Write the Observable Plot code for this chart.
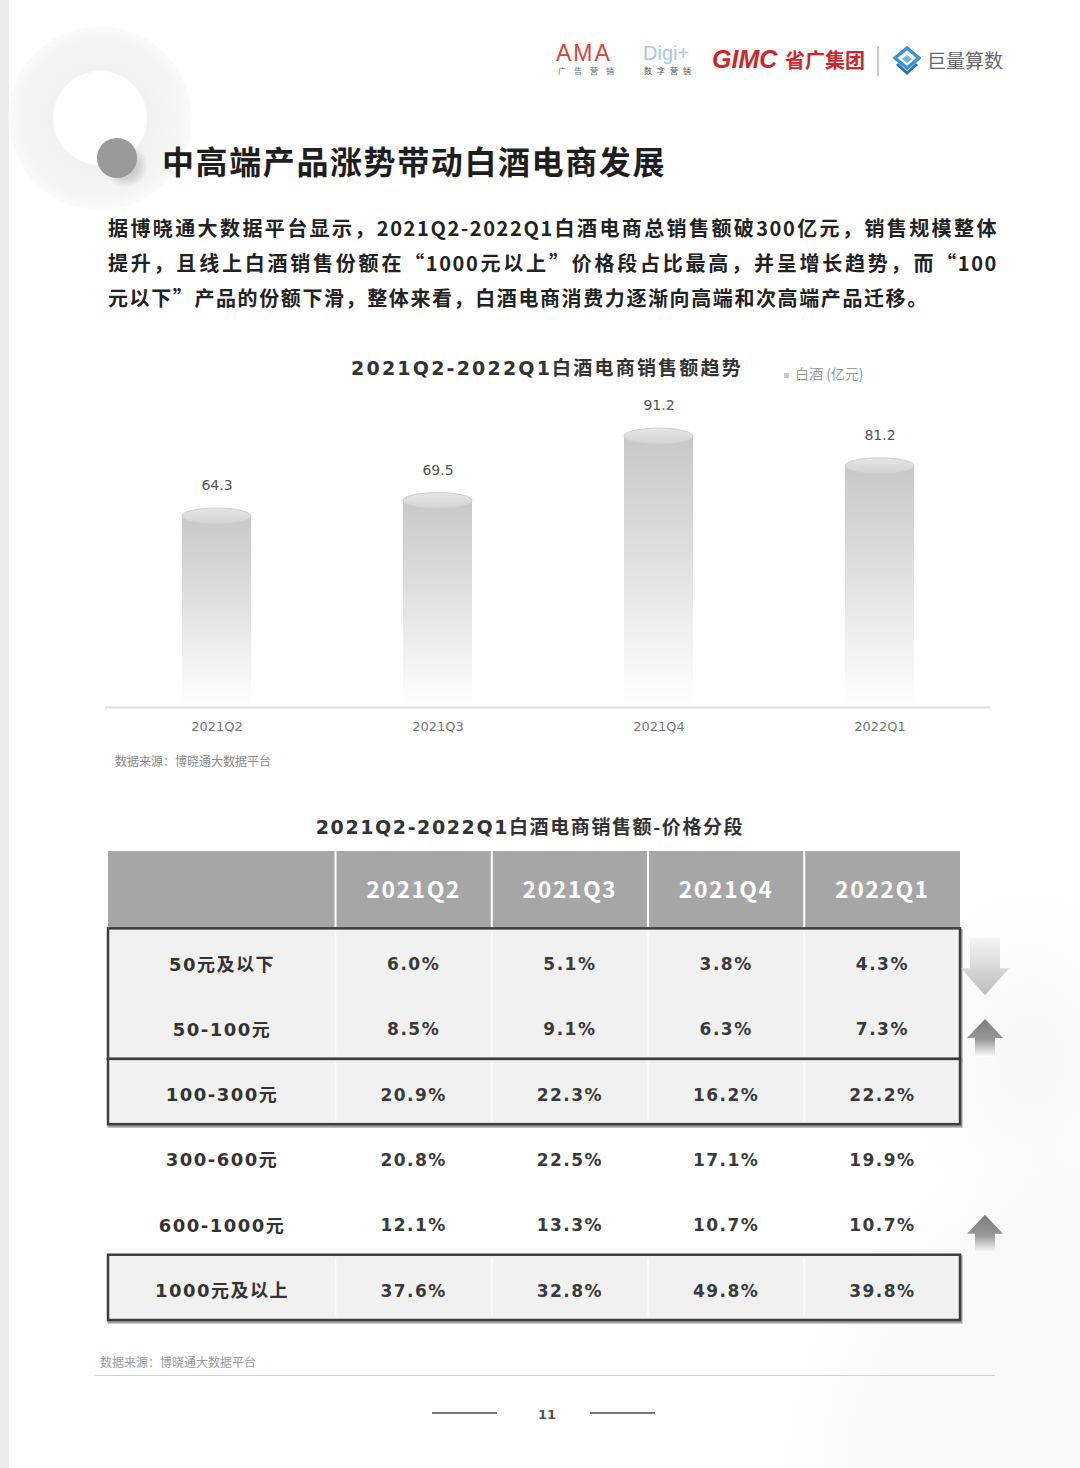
<!DOCTYPE html>
<html>
<head>
<meta charset="utf-8">
<script src="https://cdn.jsdelivr.net/npm/d3@7"></script>
<script src="https://cdn.jsdelivr.net/npm/@observablehq/plot@0.6"></script>
<style>
html, body { margin: 0; padding: 0; background: #fff; }
#page { position: relative; width: 1080px; height: 1468px; overflow: hidden; background: #fff;
  font-family: "Noto Sans CJK SC", "Noto Sans", sans-serif; }
.abs { position: absolute; }
.para { position: absolute; left: 108px; width: 890px; font-size: 20px; font-weight: 700; color: #222;
  letter-spacing: 1.6px; line-height: 35px; white-space: nowrap; }
.para.j { text-align: justify; text-align-last: justify; white-space: normal; }
.num { font-family: "DejaVu Sans", "Noto Sans CJK SC", sans-serif; }
</style>
</head>
<body>
<div id="page">
  <!-- decorative background -->
  <div class="abs" style="left:0;top:0;width:9px;height:1468px;background:#ececec;"></div>
  <div class="abs" style="left:8px;top:26px;width:184px;height:184px;border-radius:50%;background:radial-gradient(circle at 50% 50%, #fff 0 46px, #f1f1f1 48px, #f5f5f5 80px, #fafafa 91px, rgba(255,255,255,0) 93px);"></div>
  <div class="abs" style="left:780px;top:1120px;width:720px;height:720px;border-radius:50%;background:radial-gradient(circle at 50% 50%, #f9f9f9 0 55%, rgba(249,249,249,0) 71%);"></div>
  <div class="abs" style="left:900px;top:880px;width:260px;height:360px;border-radius:50%;background:radial-gradient(ellipse at 50% 50%, #f6f6f6, rgba(255,255,255,0) 70%);"></div>

  <!-- logos -->
  <div class="abs" style="left:556px;top:41px;font-family:'Liberation Sans',sans-serif;font-size:23px;color:#d8453e;letter-spacing:2px;line-height:24px;">AMA</div>
  <div class="abs" style="left:558px;top:66px;font-size:8px;color:#666;letter-spacing:8px;line-height:10px;">广告营销</div>
  <div class="abs" style="left:643px;top:42px;font-family:'Liberation Sans',sans-serif;font-size:20px;color:#a9c9dc;line-height:22px;">Digi+</div>
  <div class="abs" style="left:644px;top:66px;font-size:8px;color:#555;letter-spacing:5px;line-height:10px;">数字营销</div>
  <div class="abs" style="left:712px;top:45px;font-family:'Liberation Sans',sans-serif;font-size:25px;font-weight:700;font-style:italic;color:#d2232a;line-height:28px;">GIMC</div>
  <div class="abs" style="left:785px;top:46px;font-size:20px;font-weight:700;color:#d2232a;line-height:28px;letter-spacing:0px;">省广集团</div>
  <div class="abs" style="left:877px;top:46px;width:2px;height:30px;background:#c8c8c8;"></div>
  <svg class="abs" style="left:893px;top:46px;" width="28" height="30" viewBox="0 0 28 30">
    <path d="M14 2 L26 12 L14 22 L2 12 Z" fill="none" stroke="#3b8fd9" stroke-width="3.5"/>
    <path d="M14 9 L19 13 L14 17 L9 13 Z" fill="#6fb5ec"/>
    <path d="M4 18 L14 27 L24 18" fill="none" stroke="#2e6fb8" stroke-width="3"/>
  </svg>
  <div class="abs" style="left:927px;top:46px;font-size:19px;color:#666;line-height:28px;">巨量算数</div>

  <!-- title -->
  <div class="abs" style="left:104px;top:144px;width:44px;height:44px;border-radius:50%;background:radial-gradient(circle, #cfcfcf 0 12px, rgba(220,220,220,0) 22px);"></div>
  <div class="abs" style="left:97px;top:138px;width:40px;height:40px;border-radius:50%;background:#9a9a9a;"></div>
  <div class="abs" style="left:162px;top:139px;font-size:32px;font-weight:700;color:#1e1e1e;letter-spacing:1.6px;line-height:42px;">中高端产品涨势带动白酒电商发展</div>

  <!-- paragraph -->
  <div class="para j" style="top:210px;">据博晓通大数据平台显示，2021Q2-2022Q1白酒电商总销售额破300亿元，销售规模整体</div>
  <div class="para j" style="top:245px;">提升，且线上白酒销售份额在“1000元以上”价格段占比最高，并呈增长趋势，而“100</div>
  <div class="para" style="top:280px;">元以下”产品的份额下滑，整体来看，白酒电商消费力逐渐向高端和次高端产品迁移。</div>

  <!-- bar chart title + legend -->
  <div class="abs" style="left:0;top:353px;width:1094px;text-align:center;font-size:19px;font-weight:700;color:#333;letter-spacing:2.2px;line-height:28px;"><span class="num">2021Q2-2022Q1</span>白酒电商销售额趋势</div>
  <div class="abs" style="left:784px;top:363px;font-size:14px;color:#999;line-height:20px;"><span style="display:inline-block;width:5px;height:5px;background:#ccc;vertical-align:middle;margin-right:6px;"></span>白酒 (亿元)</div>
  <div id="bars" class="abs" style="left:0;top:380px;"></div>
  <div class="abs" style="left:115px;top:752px;font-size:12px;color:#8a8a8a;line-height:18px;">数据来源：博晓通大数据平台</div>

  <!-- table title -->
  <div class="abs" style="left:0;top:812px;width:1060px;text-align:center;font-size:19px;font-weight:700;color:#333;letter-spacing:1.6px;line-height:28px;"><span class="num">2021Q2-2022Q1</span>白酒电商销售额-价格分段</div>
  <div id="table" class="abs" style="left:0;top:840px;"></div>

  <!-- footer -->
  <div class="abs" style="left:100px;top:1353px;font-size:12px;color:#999;line-height:18px;">数据来源：博晓通大数据平台</div>
  <div class="abs" style="left:95px;top:1375px;width:900px;height:1px;background:#d0d0d0;"></div>
  <div class="abs" style="left:432px;top:1412px;width:65px;height:2px;background:#777;"></div>
  <div class="abs" style="left:590px;top:1412px;width:65px;height:2px;background:#777;"></div>
  <div class="abs num" style="left:538px;top:1406px;font-size:13px;font-weight:700;color:#555;line-height:18px;">11</div>
</div>

<script>
// ---------------- data ----------------
const quarters = ["2021Q2", "2021Q3", "2021Q4", "2022Q1"];
const salesBillion = [64.3, 69.5, 91.2, 81.2];

const priceBands = ["50元及以下", "50-100元", "100-300元", "300-600元", "600-1000元", "1000元及以上"];
const share2021Q2 = [6.0, 8.5, 20.9, 20.8, 12.1, 37.6];
const share2021Q3 = [5.1, 9.1, 22.3, 22.5, 13.3, 32.8];
const share2021Q4 = [3.8, 6.3, 16.2, 17.1, 10.7, 49.8];
const share2022Q1 = [4.3, 7.3, 22.2, 19.9, 10.7, 39.8];
const shareByQuarter = [share2021Q2, share2021Q3, share2021Q4, share2022Q1];

const highlightGroups = [["50元及以下", "50-100元"], ["100-300元"], ["1000元及以上"]];
const trendArrows = [
  {row: "50元及以下", dir: "down"},
  {row: "100-300元", dir: "up"},
  {row: "1000元及以上", dir: "up"}
];

// ---------------- bar chart ----------------
const barData = quarters.map((q, i) => ({quarter: q, value: salesBillion[i]}));

function barDefs() {
  const defs = d3.create("svg:defs");
  const body = defs.append("linearGradient").attr("id", "cylBody").attr("x1", 0).attr("y1", 0).attr("x2", 0).attr("y2", 1);
  body.append("stop").attr("offset", "0%").attr("stop-color", "#c8c8c8");
  body.append("stop").attr("offset", "45%").attr("stop-color", "#e0e0e0");
  body.append("stop").attr("offset", "85%").attr("stop-color", "#f7f7f7");
  body.append("stop").attr("offset", "100%").attr("stop-color", "#ffffff");
  const top = defs.append("linearGradient").attr("id", "cylTop").attr("x1", 0).attr("y1", 0).attr("x2", 0).attr("y2", 1);
  top.append("stop").attr("offset", "0%").attr("stop-color", "#e6e6e6");
  top.append("stop").attr("offset", "100%").attr("stop-color", "#d2d2d2");
  return defs.node();
}

function cylinderTops(index, scales) {
  const g = d3.create("svg:g");
  const bw = typeof scales.x.bandwidth === "function" ? scales.x.bandwidth() : scales.x.bandwidth;
  for (const d of barData) {
    g.append("ellipse")
      .attr("cx", scales.x(d.quarter) + bw / 2)
      .attr("cy", scales.y(d.value))
      .attr("rx", bw / 2)
      .attr("ry", 8)
      .attr("fill", "url(#cylTop)")
      .attr("stroke", "#cdcdcd")
      .attr("stroke-width", 1);
  }
  return g.node();
}

const bars = Plot.plot({
  width: 1080,
  height: 370,
  marginLeft: 105,
  marginRight: 90,
  marginTop: 30,
  marginBottom: 43,
  style: {fontFamily: "'DejaVu Sans', 'Noto Sans CJK SC', sans-serif", fontSize: "13px", color: "#777", background: "transparent"},
  x: {domain: quarters, paddingInner: 0.69, paddingOuter: 0.345, tickSize: 0, tickPadding: 14, label: null},
  y: {domain: [0, 100], axis: null},
  marks: [
    barDefs,
    Plot.barY(barData, {x: "quarter", y: "value", fill: "url(#cylBody)"}),
    cylinderTops,
    Plot.ruleY([0], {stroke: "#dedede", strokeWidth: 2}),
    Plot.text(barData, {x: "quarter", y: "value", text: d => d.value.toFixed(1), dy: -31, fontSize: 14, fill: "#555"})
  ]
});
document.getElementById("bars").appendChild(bars);

// ---------------- table ----------------
const firstColRatio = 1.453;
const headerRows = 1.185;
const W = firstColRatio + quarters.length;
const colStart = i => i === 0 ? 0 : firstColRatio + (i - 1);
const colEnd = i => i === 0 ? firstColRatio : firstColRatio + i;
const colMid = i => (colStart(i) + colEnd(i)) / 2;
const rowIdx = r => priceBands.indexOf(r);

const headerCells = ["", ...quarters].map((label, i) => ({label, i}));
const boundaries = [1, 2, 3, 4].map(colStart);
const cells = priceBands.flatMap((band, r) =>
  quarters.map((q, c) => ({band, quarter: q, col: c + 1, row: r, value: shareByQuarter[c][r]})));
const boxes = highlightGroups.map(g => ({y1: rowIdx(g[0]), y2: rowIdx(g[g.length - 1]) + 1}));
const boxSeparators = boxes.flatMap(b => boundaries.map(x => ({x, y1: b.y1, y2: b.y2})));

function arrowMark(index, scales) {
  const g = d3.create("svg:g");
  const defs = g.append("defs");
  const gd = defs.append("linearGradient").attr("id", "arrowDown").attr("x1", 0).attr("y1", 0).attr("x2", 0).attr("y2", 1);
  gd.append("stop").attr("offset", "0%").attr("stop-color", "#f4f4f4");
  gd.append("stop").attr("offset", "100%").attr("stop-color", "#bdbdbd");
  const gu = defs.append("linearGradient").attr("id", "arrowUp").attr("x1", 0).attr("y1", 0).attr("x2", 0).attr("y2", 1);
  gu.append("stop").attr("offset", "0%").attr("stop-color", "#7a7a7a");
  gu.append("stop").attr("offset", "55%").attr("stop-color", "#9a9a9a");
  gu.append("stop").attr("offset", "100%").attr("stop-color", "#ffffff");
  const cx = scales.x(W) + 25;
  for (const a of trendArrows) {
    const r = rowIdx(a.row);
    if (a.dir === "down") {
      const top = scales.y(r) + 10;
      g.append("path")
        .attr("d", `M${cx - 15},${top} H${cx + 15} V${top + 30} H${cx + 24} L${cx},${top + 57} L${cx - 24},${top + 30} H${cx - 15} Z`)
        .attr("fill", "url(#arrowDown)");
    } else {
      const bottom = scales.y(r) - 2;
      const tip = bottom - 38;
      g.append("path")
        .attr("d", `M${cx},${tip} L${cx + 18},${tip + 19} H${cx + 10} V${bottom} H${cx - 10} V${tip + 19} H${cx - 18} Z`)
        .attr("fill", "url(#arrowUp)");
    }
  }
  return g.node();
}

const table = Plot.plot({
  width: 1080,
  height: 500,
  marginLeft: 108,
  marginRight: 120,
  marginTop: 11,
  marginBottom: 20,
  style: {fontFamily: "'Noto Sans CJK SC', sans-serif", background: "transparent"},
  x: {domain: [0, W], axis: null},
  y: {domain: [-headerRows, priceBands.length], reverse: true, axis: null},
  marks: [
    // header
    Plot.rect(headerCells, {x1: d => colStart(d.i), x2: d => colEnd(d.i), y1: () => -headerRows, y2: () => 0, fill: "#a6a6a6"}),
    Plot.ruleX(boundaries, {x: d => d, y1: () => -headerRows, y2: () => 0, stroke: "#ffffff", strokeWidth: 2}),
    Plot.text(headerCells.filter(d => d.i > 0), {x: d => colMid(d.i), y: () => -headerRows / 2, text: "label",
      fill: "#ffffff", fontSize: 23, fontWeight: 700}),
    // highlighted boxes
    Plot.rect(boxes, {x1: () => 0, x2: () => W, y1: "y1", y2: "y2", fill: "none", stroke: "#a0a0a0", strokeWidth: 3, dx: 1, dy: 2}),
    Plot.rect(boxes, {x1: () => 0, x2: () => W, y1: "y1", y2: "y2", fill: "#f1f1f1", stroke: "#3e3e3e", strokeWidth: 2.5}),
    Plot.ruleX(boxSeparators, {x: "x", y1: "y1", y2: "y2", stroke: "#fbfbfb", strokeWidth: 1.5, insetTop: 3, insetBottom: 3}),
    // row labels
    Plot.text(priceBands, {x: () => colMid(0), y: (d, i) => i + 0.55, text: d => d,
      fontFamily: "'DejaVu Sans', 'Noto Sans CJK SC', sans-serif", fontSize: 18, fontWeight: 700, fill: "#333"}),
    // values
    Plot.text(cells, {x: d => colMid(d.col), y: d => d.row + 0.55, text: d => d.value.toFixed(1) + "%",
      fontFamily: "'DejaVu Sans', sans-serif", fontSize: 17, fontWeight: 700, fill: "#3a3a3a"}),
    arrowMark
  ]
});
d3.select(table).selectAll("text").attr("letter-spacing", "1.5px");
document.getElementById("table").appendChild(table);
</script>
</body>
</html>
